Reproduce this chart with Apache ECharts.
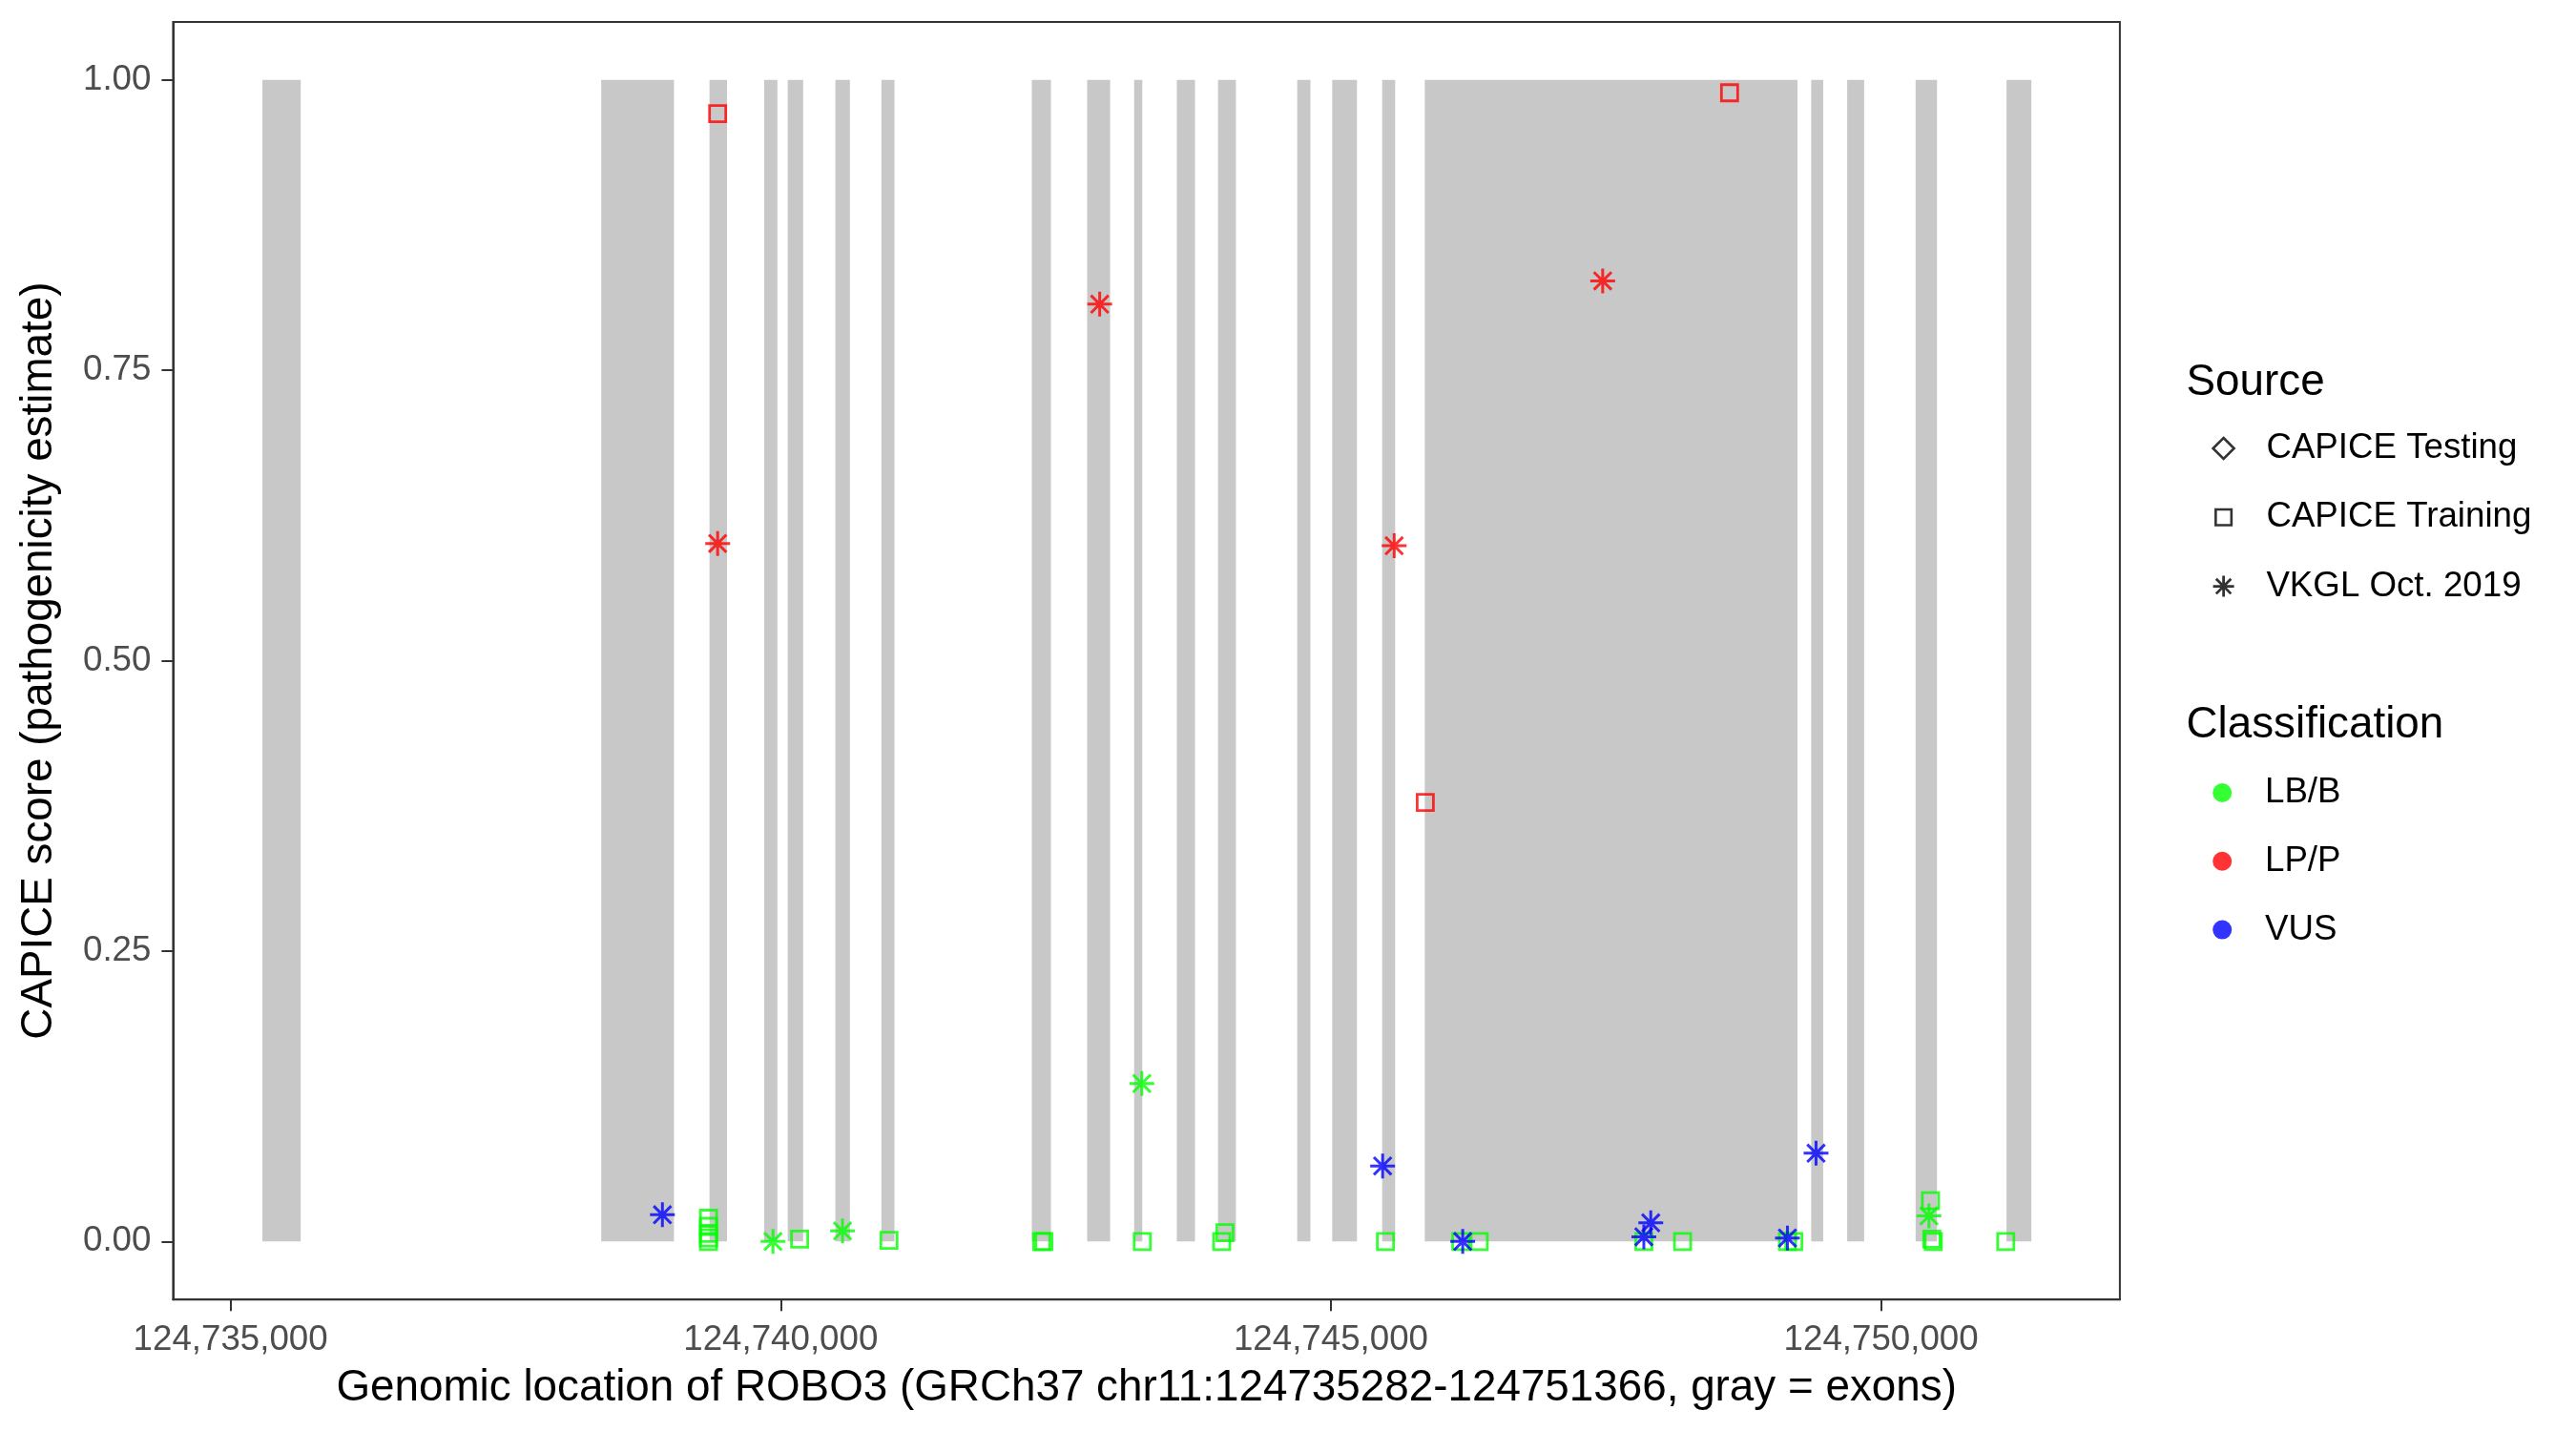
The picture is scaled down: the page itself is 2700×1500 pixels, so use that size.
<!DOCTYPE html>
<html>
<head>
<meta charset="utf-8">
<script src="https://cdn.jsdelivr.net/npm/echarts@6/dist/echarts.min.js"></script>
<style>
  html, body { margin: 0; padding: 0; background: #fff; }
  #chart { width: 2700px; height: 1500px; }
</style>
</head>
<body>
<div id="chart"></div>
<script>
// exons of ROBO3 (genomic start / end)
const exonStart = [124735290, 124738369, 124739353, 124739850, 124740064, 124740497, 124740915,
  124742282, 124742785, 124743212, 124743600, 124743974, 124744694, 124745012, 124745466,
  124745853, 124749365, 124749692, 124750314, 124751140]
const exonEnd = [124735638, 124739030, 124739512, 124739970, 124740204, 124740629, 124741034,
  124742456, 124742994, 124743286, 124743765, 124744137, 124744814, 124745237, 124745584,
  124749240, 124749474, 124749846, 124750508, 124751366]

// [position, CAPICE score]
const trainingLBB = [
  [124739344, 0.020], [124739344, 0.013], [124739344, 0.007], [124739344, 0.003], [124739344, 0.000],
  [124740172, 0.002], [124740984, 0.001], [124742371, 0.000], [124742392, 0.000], [124743286, 0.000],
  [124744037, 0.0075], [124744008, 0.000], [124745496, 0.000], [124746180, 0.000], [124746348, 0.000],
  [124747844, 0.000], [124748196, 0.000], [124749149, 0.000], [124749207, 0.000], [124750449, 0.035],
  [124750461, 0.002], [124750475, 0.000], [124751133, 0.000]
]
const trainingLPP = [[124739427, 0.971], [124745858, 0.378], [124748623, 0.989]]
const vkglLBB = [[124739930, 0.000], [124740562, 0.009], [124743282, 0.136], [124750435, 0.022]]
const vkglLPP = [[124739427, 0.601], [124742899, 0.807], [124745575, 0.599], [124747470, 0.827]]
const vkglVUS = [
  [124738925, 0.023], [124745470, 0.065], [124746198, 0.000], [124747844, 0.004],
  [124747907, 0.016], [124749149, 0.003], [124749409, 0.076]
]

const xTicks = [124735000, 124740000, 124745000, 124750000]
const yTicks = [0, 0.25, 0.5, 0.75, 1]
const sourceNames = ['CAPICE Testing', 'CAPICE Training', 'VKGL Oct. 2019']
const classNames = ['LB/B', 'LP/P', 'VUS']

const GREEN = '#00FF00'
const RED = '#FF0000'
const BLUE = '#0000FF'
const FONT = 'Liberation Sans, Arial, sans-serif'
const ASTERISK = 'path://M0,-1L0,1M-1,0L1,0M-0.7071,-0.7071L0.7071,0.7071M-0.7071,0.7071L0.7071,-0.7071'
const SQUARE_ICON = 'path://M-0.75,-0.75L0.75,-0.75L0.75,0.75L-0.75,0.75Z M-1,-1 M1,1'

const chart = echarts.init(document.getElementById('chart'))

function squares(name, data, color) {
  return {
    type: 'scatter', name, data, symbol: 'rect', symbolSize: 17, z: 3,
    itemStyle: { color: 'transparent', borderColor: color, borderWidth: 2.8 },
  }
}
function stars(name, data, color) {
  return {
    type: 'scatter', name, data, symbol: ASTERISK, symbolSize: 26, z: 4,
    itemStyle: { color: 'transparent', borderColor: color, borderWidth: 3 },
  }
}
function dummy(name) {
  return { type: 'scatter', name, data: [] }
}

const tickStyle = { show: true, length: 12, lineStyle: { color: '#333333', width: 2 } }
const labelStyle = { color: '#4D4D4D', fontSize: 36.7, fontFamily: FONT }

const option = {
  animation: false,
  backgroundColor: '#ffffff',
  grid: {
    left: 181.4, right: 478.1, top: 23, bottom: 137.8,
    show: true, borderColor: '#333333', borderWidth: 2,
    outerBoundsMode: 'none',
  },
  title: [
    { text: 'Source', left: 2291.5, top: 378, padding: 0,
      textStyle: { fontSize: 45.8, lineHeight: 45.8, fontWeight: 'normal', color: '#000', fontFamily: FONT } },
    { text: 'Classification', left: 2291.5, top: 737.5, padding: 0,
      textStyle: { fontSize: 45.8, lineHeight: 45.8, fontWeight: 'normal', color: '#000', fontFamily: FONT } },
  ],
  legend: [
    {
      orient: 'vertical', left: 2318.2, top: 450, padding: 0,
      itemWidth: 22, itemHeight: 22, itemGap: 32.3, selectedMode: false,
      textStyle: { fontSize: 36.7, lineHeight: 40, color: '#000', fontFamily: FONT, padding: [0, 0, 0, 28.8] },
      data: [
        { name: sourceNames[0], icon: 'diamond', itemStyle: { color: 'transparent', borderColor: '#000', borderWidth: 2.6 } },
        { name: sourceNames[1], icon: SQUARE_ICON, itemStyle: { color: 'transparent', borderColor: '#000', borderWidth: 2.6 } },
        { name: sourceNames[2], icon: ASTERISK, itemStyle: { color: 'transparent', borderColor: '#000', borderWidth: 2.8 } },
      ],
    },
    {
      orient: 'vertical', left: 2319.2, top: 811, padding: 0,
      itemWidth: 20, itemHeight: 20, itemGap: 31.8, selectedMode: false,
      textStyle: { fontSize: 36.7, lineHeight: 40, color: '#000', fontFamily: FONT, padding: [0, 0, 0, 29.8] },
      data: [
        { name: classNames[0], icon: 'circle', itemStyle: { color: GREEN, borderWidth: 0 } },
        { name: classNames[1], icon: 'circle', itemStyle: { color: RED, borderWidth: 0 } },
        { name: classNames[2], icon: 'circle', itemStyle: { color: BLUE, borderWidth: 0 } },
      ],
    },
  ],
  xAxis: {
    type: 'value',
    min: 124734478, max: 124752170,
    name: 'Genomic location of ROBO3 (GRCh37 chr11:124735282-124751366, gray = exons)',
    nameLocation: 'middle', nameGap: 70,
    nameTextStyle: { color: '#000', fontSize: 45.8, fontFamily: FONT },
    axisLine: { show: true, onZero: false, lineStyle: { color: '#333333', width: 2 } },
    axisTick: { ...tickStyle, customValues: xTicks },
    axisLabel: { ...labelStyle, margin: 24, customValues: xTicks,
      formatter: v => Number(v).toLocaleString('en-US') },
    splitLine: { show: false },
  },
  yAxis: {
    type: 'value',
    min: -0.05, max: 1.05,
    name: 'CAPICE score (pathogenicity estimate)',
    nameLocation: 'middle', nameGap: 117, nameRotate: 90,
    nameTextStyle: { color: '#000', fontSize: 45.8, fontFamily: FONT },
    axisLine: { show: true, onZero: false, lineStyle: { color: '#333333', width: 2 } },
    axisTick: { ...tickStyle, customValues: yTicks },
    axisLabel: { ...labelStyle, margin: 23, customValues: yTicks,
      formatter: v => Number(v).toFixed(2) },
    splitLine: { show: false },
  },
  series: [
    {
      type: 'custom', name: 'exons', z: 1, silent: true,
      data: exonStart.map((s, i) => [s, exonEnd[i]]),
      encode: { x: [0, 1] },
      renderItem: (params, api) => {
        const p0 = api.coord([api.value(0), 1])
        const p1 = api.coord([api.value(1), 0])
        return {
          type: 'rect',
          shape: { x: p0[0], y: p0[1], width: p1[0] - p0[0], height: p1[1] - p0[1] },
          style: { fill: '#C8C8C8' },
        }
      },
    },
    squares('Training LB/B', trainingLBB, GREEN),
    squares('Training LP/P', trainingLPP, RED),
    stars('VKGL LB/B', vkglLBB, GREEN),
    stars('VKGL LP/P', vkglLPP, RED),
    stars('VKGL VUS', vkglVUS, BLUE),
    ...sourceNames.map(dummy),
    ...classNames.map(dummy),
  ],
}

chart.setOption(option)
</script>
</body>
</html>
